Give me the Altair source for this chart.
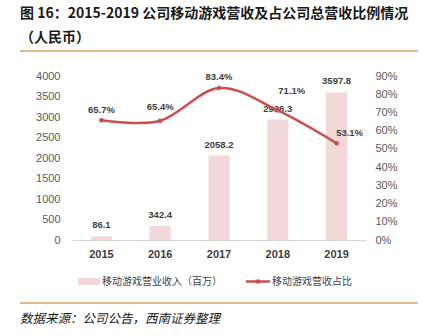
import altair as alt
import pandas as pd

years = ["2015", "2016", "2017", "2018", "2019"]
revenue = [86.1, 342.4, 2058.2, 2936.3, 3597.8]
share = [0.657, 0.654, 0.834, 0.711, 0.531]
left_ticks = [0, 500, 1000, 1500, 2000, 2500, 3000, 3500, 4000]
right_ticks = [0, 0.1, 0.2, 0.3, 0.4, 0.5, 0.6, 0.7, 0.8, 0.9]

title1 = "图 16：2015-2019 公司移动游戏营收及占公司总营收比例情况"
title2 = "（人民币）"
legend_bar = "移动游戏营业收入（百万）"
legend_line = "移动游戏营收占比"
source = "数据来源：公司公告，西南证券整理"

df = pd.DataFrame({"year": years, "revenue": revenue, "share": share})
one = pd.DataFrame({"a": [0]})

W, H = 294, 164
BAR = "#f2d8d8"
LINE = "#c9504f"
GOLD = "#d8a463"
CJK = "Noto Sans CJK SC"
NUM = "Liberation Sans"
DARK = "#404040"

x = alt.X("year:N", sort=years,
          scale=alt.Scale(paddingInner=0.64, paddingOuter=0.32),
          axis=alt.Axis(title=None, labelAngle=0, ticks=False, domainColor="#d9d9d9",
                        labelFont=NUM, labelFontSize=11, labelFontWeight="bold",
                        labelColor=DARK, labelPadding=8))
yl = alt.Y("revenue:Q", scale=alt.Scale(domain=[0, 4000], nice=False),
           axis=alt.Axis(title=None, orient="left", values=left_ticks, format="d",
                         domain=False, ticks=False, grid=False, labelFont=NUM,
                         labelFontSize=11, labelColor="#595959", labelPadding=12))
yr = alt.Y("share:Q", scale=alt.Scale(domain=[0, 0.9], nice=False),
           axis=alt.Axis(title=None, orient="right", values=right_ticks, format=".0%",
                         domain=False, ticks=False, grid=False, labelFont=NUM,
                         labelFontSize=11, labelColor="#595959", labelPadding=9))

base = alt.Chart(df)
bars = base.mark_bar(color=BAR).encode(x=x, y=yl)
bar_text = base.mark_text(dy=-11, font=NUM, fontSize=9.5, fontWeight="bold",
                          color=DARK).encode(x=x, y=yl,
                                             text=alt.Text("revenue:Q", format=".1f"))
bar_layer = alt.layer(bars, bar_text)

line = base.mark_line(color=LINE, strokeWidth=2.5, interpolate="cardinal").encode(x=x, y=yr)
pts = base.mark_point(filled=True, size=22, color=LINE, opacity=1).encode(x=x, y=yr)


def lab(year, dx, dy):
    return base.transform_filter(alt.datum.year == year).mark_text(
        dx=dx, dy=dy, font=NUM, fontSize=9.5, fontWeight="bold", color=DARK
    ).encode(x=x, y=yr, text=alt.Text("share:Q", format=".1%"))


line_layer = alt.layer(line, pts, lab("2015", 0, -10), lab("2016", 0, -14),
                       lab("2017", 0, -11), lab("2018", 14, -19), lab("2019", 13, -10))

main = alt.layer(bar_layer, line_layer).resolve_scale(y="independent")


def txt(t, xv, yv, size, weight="normal", style="normal", color="#1a1a1a"):
    return alt.Chart(one).mark_text(text=t, align="left", baseline="middle", font=CJK,
                                    fontSize=size, fontWeight=weight, fontStyle=style,
                                    color=color).encode(x=alt.value(xv), y=alt.value(yv))


t1 = txt(title1, -52, -62, 14, "bold")
t2 = txt(title2, -52, -38, 14, "bold")
gold1 = alt.Chart(one).mark_rule(color=GOLD, strokeWidth=1.5).encode(
    x=alt.value(-52), x2=alt.value(346), y=alt.value(-25))
gold2 = alt.Chart(one).mark_rule(color=GOLD, strokeWidth=1.5).encode(
    x=alt.value(-52), x2=alt.value(346), y=alt.value(227))
src = txt(source, -52, 242.5, 12.5, "normal", "italic", "#1a1a1a")

leg_rect = alt.Chart(one).mark_rect(color=BAR).encode(
    x=alt.value(6), x2=alt.value(28), y=alt.value(202), y2=alt.value(209))
leg_rule = alt.Chart(one).mark_rule(color=LINE, strokeWidth=2.5).encode(
    x=alt.value(174), x2=alt.value(198), y=alt.value(205.5))
leg_pt = alt.Chart(one).mark_point(filled=True, size=22, color=LINE, opacity=1).encode(
    x=alt.value(186), y=alt.value(205.5))
leg_t1 = txt(legend_bar, 30, 205.5, 10, color=DARK)
leg_t2 = txt(legend_line, 200, 205.5, 10, color=DARK)

chart = alt.layer(
    main, t1, t2, gold1, gold2, src, leg_rect, leg_rule, leg_pt, leg_t1, leg_t2
).properties(
    width=W, height=H,
    padding={"left": 72, "top": 76, "right": 57, "bottom": 96},
    autosize=alt.AutoSizeParams(type="none"),
    background="white",
).configure_view(stroke=None)

chart.save("out.html", embed_options={"renderer": "svg", "actions": False})
